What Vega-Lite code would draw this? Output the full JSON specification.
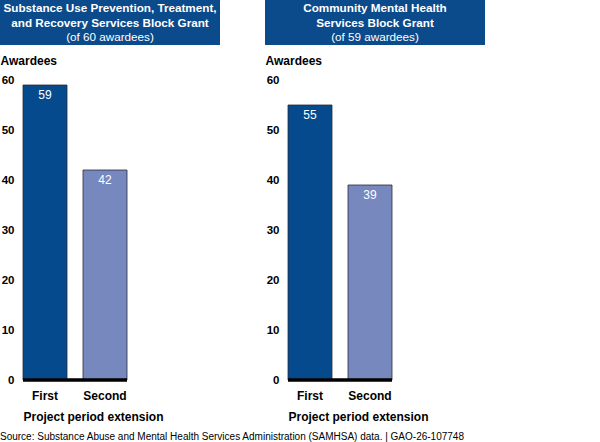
{
  "$schema": "https://vega.github.io/schema/vega-lite/v6.json",
  "padding": {"left": 0, "top": 0, "right": 0, "bottom": 0},
  "background": "white",
  "config": {
    "font": "Liberation Sans",
    "view": {"stroke": null},
    "concat": {"spacing": 45}
  },
  "datasets": {
    "bars": [
      {"grant": "suptrs", "ext": "First", "n": 59},
      {"grant": "suptrs", "ext": "Second", "n": 42},
      {"grant": "cmhs", "ext": "First", "n": 55},
      {"grant": "cmhs", "ext": "Second", "n": 39}
    ],
    "heads": [
      {"grant": "suptrs", "line": 1, "text": "Substance Use Prevention, Treatment,", "bold": true},
      {"grant": "suptrs", "line": 2, "text": "and Recovery Services Block Grant", "bold": true},
      {"grant": "suptrs", "line": 3, "text": "(of 60 awardees)", "bold": false},
      {"grant": "cmhs", "line": 1, "text": "Community Mental Health", "bold": true},
      {"grant": "cmhs", "line": 2, "text": "Services Block Grant", "bold": true},
      {"grant": "cmhs", "line": 3, "text": "(of 59 awardees)", "bold": false}
    ]
  },
  "title": {
    "text": "Source: Substance Abuse and Mental Health Services Administration (SAMHSA) data.  |  GAO-26-107748",
    "orient": "bottom",
    "anchor": "start",
    "fontSize": 10,
    "fontWeight": "normal",
    "color": "black",
    "offset": 10
  },
  "hconcat": [
    {
      "spacing": 9,
      "vconcat": [
        {
          "width": 220,
          "height": 45,
          "view": {"fill": "#0B4A8B", "stroke": null},
          "data": {"name": "heads"},
          "transform": [{"filter": "datum.grant == 'suptrs'"}],
          "encoding": {
            "y": {"field": "line", "type": "ordinal", "axis": null, "scale": {"type": "point", "padding": 0.6}},
            "text": {"field": "text"}
          },
          "layer": [
            {
              "transform": [{"filter": "datum.bold"}],
              "mark": {"type": "text", "color": "white", "fontSize": 11.7, "fontWeight": "bold", "x": 110, "align": "center", "baseline": "middle"}
            },
            {
              "transform": [{"filter": "!datum.bold"}],
              "mark": {"type": "text", "color": "white", "fontSize": 11.7, "fontWeight": "normal", "x": 110, "align": "center", "baseline": "middle"}
            }
          ]
        },
        {
          "width": 127,
          "height": 300,
          "data": {"name": "bars"},
          "transform": [{"filter": "datum.grant == 'suptrs'"}],
          "encoding": {
            "x": {
              "field": "ext", "type": "nominal", "sort": ["First", "Second"],
              "scale": {"paddingInner": 0.2667, "paddingOuter": 0.1917, "align": 1},
              "axis": {
                "title": "Project period extension", "titleX": 23, "titleAlign": "left", "titleFontSize": 12, "titleFontWeight": "bold", "titleColor": "black", "titlePadding": 10,
                "labelAngle": 0, "labelFontSize": 12, "labelFontWeight": "bold", "labelColor": "black", "labelPadding": 10,
                "ticks": false, "domain": false
              }
            },
            "y": {
              "field": "n", "type": "quantitative",
              "scale": {"domain": [0, 60]},
              "axis": {
                "values": [0, 10, 20, 30, 40, 50, 60], "grid": false, "domain": false, "ticks": false,
                "labelFontSize": 11.5, "labelFontWeight": "bold", "labelColor": "black", "labelAlign": "right", "labelPadding": -14,
                "title": "Awardees", "titleAngle": 0, "titleAlign": "left", "titleBaseline": "middle", "titleX": 0, "titleY": -20,
                "titleFontSize": 12, "titleFontWeight": "bold", "titleColor": "black"
              }
            }
          },
          "layer": [
            {
              "mark": {"type": "bar", "stroke": "#2a2a3a", "strokeWidth": 0.8},
              "encoding": {
                "color": {"field": "ext", "type": "nominal", "scale": {"domain": ["First", "Second"], "range": ["#064A8E", "#7788BF"]}, "legend": null}
              }
            },
            {
              "mark": {"type": "text", "color": "white", "fontSize": 12, "baseline": "top", "dy": 5},
              "encoding": {"text": {"field": "n"}}
            },
            {
              "mark": {"type": "rule", "color": "black", "strokeWidth": 3},
              "encoding": {
                "x": {"datum": "First", "type": "nominal", "bandPosition": 0},
                "x2": {"datum": "Second", "bandPosition": 1},
                "y": {"datum": 0, "type": "quantitative"}
              }
            }
          ]
        }
      ]
    },
    {
      "spacing": 9,
      "vconcat": [
        {
          "width": 220,
          "height": 45,
          "view": {"fill": "#0B4A8B", "stroke": null},
          "data": {"name": "heads"},
          "transform": [{"filter": "datum.grant == 'cmhs'"}],
          "encoding": {
            "y": {"field": "line", "type": "ordinal", "axis": null, "scale": {"type": "point", "padding": 0.6}},
            "text": {"field": "text"}
          },
          "layer": [
            {
              "transform": [{"filter": "datum.bold"}],
              "mark": {"type": "text", "color": "white", "fontSize": 11.7, "fontWeight": "bold", "x": 110, "align": "center", "baseline": "middle"}
            },
            {
              "transform": [{"filter": "!datum.bold"}],
              "mark": {"type": "text", "color": "white", "fontSize": 11.7, "fontWeight": "normal", "x": 110, "align": "center", "baseline": "middle"}
            }
          ]
        },
        {
          "width": 127,
          "height": 300,
          "data": {"name": "bars"},
          "transform": [{"filter": "datum.grant == 'cmhs'"}],
          "encoding": {
            "x": {
              "field": "ext", "type": "nominal", "sort": ["First", "Second"],
              "scale": {"paddingInner": 0.2667, "paddingOuter": 0.1917, "align": 1},
              "axis": {
                "title": "Project period extension", "titleX": 23, "titleAlign": "left", "titleFontSize": 12, "titleFontWeight": "bold", "titleColor": "black", "titlePadding": 10,
                "labelAngle": 0, "labelFontSize": 12, "labelFontWeight": "bold", "labelColor": "black", "labelPadding": 10,
                "ticks": false, "domain": false
              }
            },
            "y": {
              "field": "n", "type": "quantitative",
              "scale": {"domain": [0, 60]},
              "axis": {
                "values": [0, 10, 20, 30, 40, 50, 60], "grid": false, "domain": false, "ticks": false,
                "labelFontSize": 11.5, "labelFontWeight": "bold", "labelColor": "black", "labelAlign": "right", "labelPadding": -14,
                "title": "Awardees", "titleAngle": 0, "titleAlign": "left", "titleBaseline": "middle", "titleX": 0, "titleY": -20,
                "titleFontSize": 12, "titleFontWeight": "bold", "titleColor": "black"
              }
            }
          },
          "layer": [
            {
              "mark": {"type": "bar", "stroke": "#2a2a3a", "strokeWidth": 0.8},
              "encoding": {
                "color": {"field": "ext", "type": "nominal", "scale": {"domain": ["First", "Second"], "range": ["#064A8E", "#7788BF"]}, "legend": null}
              }
            },
            {
              "mark": {"type": "text", "color": "white", "fontSize": 12, "baseline": "top", "dy": 5},
              "encoding": {"text": {"field": "n"}}
            },
            {
              "mark": {"type": "rule", "color": "black", "strokeWidth": 3},
              "encoding": {
                "x": {"datum": "First", "type": "nominal", "bandPosition": 0},
                "x2": {"datum": "Second", "bandPosition": 1},
                "y": {"datum": 0, "type": "quantitative"}
              }
            }
          ]
        }
      ]
    }
  ]
}
